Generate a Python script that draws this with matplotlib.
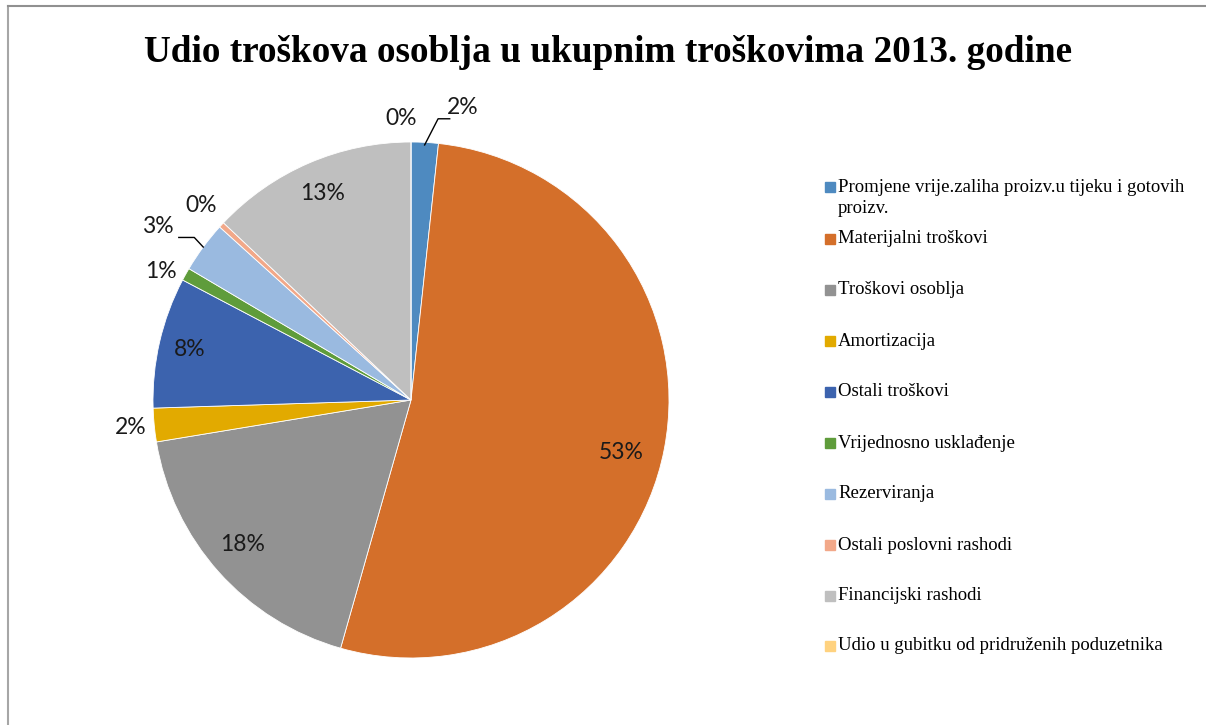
import numpy as np
import matplotlib.pyplot as plt
from matplotlib.patches import Rectangle
from matplotlib.lines import Line2D

categories = ['Promjene vrije.zaliha proizv.u tijeku i gotovih\nproizv.',
              'Materijalni troškovi',
              'Troškovi osoblja',
              'Amortizacija',
              'Ostali troškovi',
              'Vrijednosno usklađenje',
              'Rezerviranja',
              'Ostali poslovni rashodi',
              'Financijski rashodi',
              'Udio u gubitku od pridruženih poduzetnika']
shares = [1.7, 52.7, 18.0, 2.1, 8.2, 0.8, 3.2, 0.35, 12.95, 0.0]
colors = ['#4E8AC0', '#D46F2A', '#929292', '#E2AA00', '#3C63AE',
          '#5F9C3B', '#9ABAE0', '#F2A889', '#BFBFBF', '#FFD27F']

# label placement: radius (in pie radii) and angle nudge (deg, clockwise)
lab_r = [1.15, 0.84, 0.86, 1.09, 0.88, 1.09, 1.19, 1.11, 0.87, 1.09]
lab_da = [7, 3, 1, 0, 0, -2, -2, 0, 0, -2]

W, H = 1206, 725
fig = plt.figure(figsize=(W / 100, H / 100), dpi=100)

# outer frame (left and top edges)
fig.add_artist(Line2D([8 / W, 8 / W], [0, 1 - 6 / H], color='#A6A6A6', lw=1.5))
fig.add_artist(Line2D([8 / W, 1], [1 - 6 / H, 1 - 6 / H], color='#909090', lw=1.5))

fig.text(608 / W, 1 - 52 / H, 'Udio troškova osoblja u ukupnim troškovima 2013. godine',
         ha='center', va='center', fontsize=26.8, fontweight='bold',
         family='Liberation Serif')

cx, cy, R = 411, 400, 258
lim = 1.35
half = R * lim
ax = fig.add_axes([(cx - half) / W, (H - cy - half) / H, 2 * half / W, 2 * half / H])
wedges, _ = ax.pie(shares, colors=colors, startangle=90, counterclock=False,
                   radius=1, wedgeprops=dict(linewidth=0.6, edgecolor='white'))
ax.set_xlim(-lim, lim)
ax.set_ylim(-lim, lim)
ax.set_aspect('equal')
ax.axis('off')

total = sum(shares)
start = 0.0
for i, v in enumerate(shares):
    mid = start + v / total * 180.0
    start += v / total * 360.0
    a = np.deg2rad(mid + lab_da[i])
    x, y = lab_r[i] * np.sin(a), lab_r[i] * np.cos(a)
    ax.text(x, y, '%d%%' % round(v), ha='center', va='center', fontsize=16.5,
            family='Lato', color='#1a1a1a')

# leader lines for the two smallest outside labels
a0 = np.deg2rad(shares[0] / total * 180.0)
ax.plot([0.99 * np.sin(a0), 0.105, 0.15], [0.99 * np.cos(a0), 1.09, 1.09],
        color='black', lw=1)
a6 = np.deg2rad(360 * sum(shares[:6]) / total + shares[6] / total * 180.0)
ax.plot([1.0 * np.sin(a6), -0.84, -0.90], [1.0 * np.cos(a6), 0.63, 0.63],
        color='black', lw=1)

# legend
ys = [187, 239, 290, 341, 392, 443, 494, 545, 596, 646]
for lab, c, y in zip(categories, colors, ys):
    fig.add_artist(Rectangle((825 / W, 1 - (y + 5) / H), 10 / W, 10 / H,
                             color=c, transform=fig.transFigure))
    if '\n' in lab:
        fig.text(838 / W, 1 - (y - 8) / H, lab, ha='left', va='top',
                 fontsize=13.5, family='Liberation Serif', linespacing=1.3)
    else:
        fig.text(838 / W, 1 - y / H, lab, ha='left', va='center',
                 fontsize=13.5, family='Liberation Serif')

fig.savefig('out.png', dpi=100)
